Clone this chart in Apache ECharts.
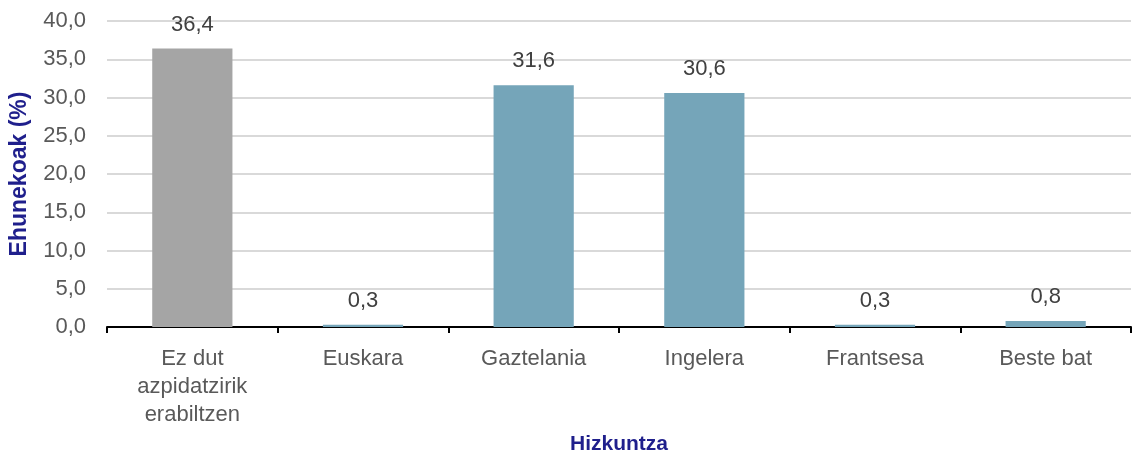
<!DOCTYPE html>
<html>
<head>
<meta charset="utf-8">
<script src="https://cdn.jsdelivr.net/npm/echarts@6/dist/echarts.min.js"></script>
<style>
  html, body { margin: 0; padding: 0; background: #fff; }
  #chart { width: 1132px; height: 458px; }
</style>
</head>
<body>
<div id="chart"></div>
<script>
const categories = ["Ez dut\nazpidatzirik\nerabiltzen", "Euskara", "Gaztelania", "Ingelera", "Frantsesa", "Beste bat"];
const values = [36.4, 0.3, 31.6, 30.6, 0.3, 0.8];
const barColors = ["#a5a5a5", "#75a5b9", "#75a5b9", "#75a5b9", "#75a5b9", "#75a5b9"];

const fmt = (v) => v.toFixed(1).replace(".", ",");
const FONT = "Liberation Sans, Arial, sans-serif";

const chart = echarts.init(document.getElementById("chart"));
chart.setOption({
  animation: false,
  grid: { left: 107, right: 1, top: 21, bottom: 131, containLabel: false, outerBoundsMode: "none" },
  xAxis: {
    type: "category",
    data: categories,
    name: "Hizkuntza",
    nameLocation: "middle",
    nameGap: 102,
    nameTextStyle: { color: "#1f1f8c", fontWeight: "bold", fontSize: 21, fontFamily: FONT },
    axisLine: { lineStyle: { color: "#000", width: 2 } },
    axisTick: { show: true, length: 6, lineStyle: { color: "#000", width: 2 } },
    axisLabel: { color: "#595959", fontSize: 22, lineHeight: 28, margin: 18, fontFamily: FONT, interval: 0 }
  },
  yAxis: {
    type: "value",
    min: 0,
    max: 40,
    interval: 5,
    name: "Ehunekoak (%)",
    nameLocation: "middle",
    nameGap: 76,
    nameRotate: 90,
    nameTextStyle: { color: "#1f1f8c", fontWeight: "bold", fontSize: 23, fontFamily: FONT },
    axisLine: { show: false },
    axisTick: { show: false },
    splitLine: { lineStyle: { color: "#d9d9d9", width: 2 } },
    axisLabel: { color: "#595959", fontSize: 22, margin: 21, fontFamily: FONT, formatter: fmt }
  },
  series: [{
    type: "bar",
    data: values.map((v, i) => ({ value: v, itemStyle: { color: barColors[i] } })),
    barWidth: "47%",
    label: {
      show: true,
      position: "top",
      distance: 13,
      color: "#404040",
      fontSize: 22,
      fontFamily: FONT,
      formatter: (p) => fmt(p.value)
    }
  }]
});
</script>
</body>
</html>
